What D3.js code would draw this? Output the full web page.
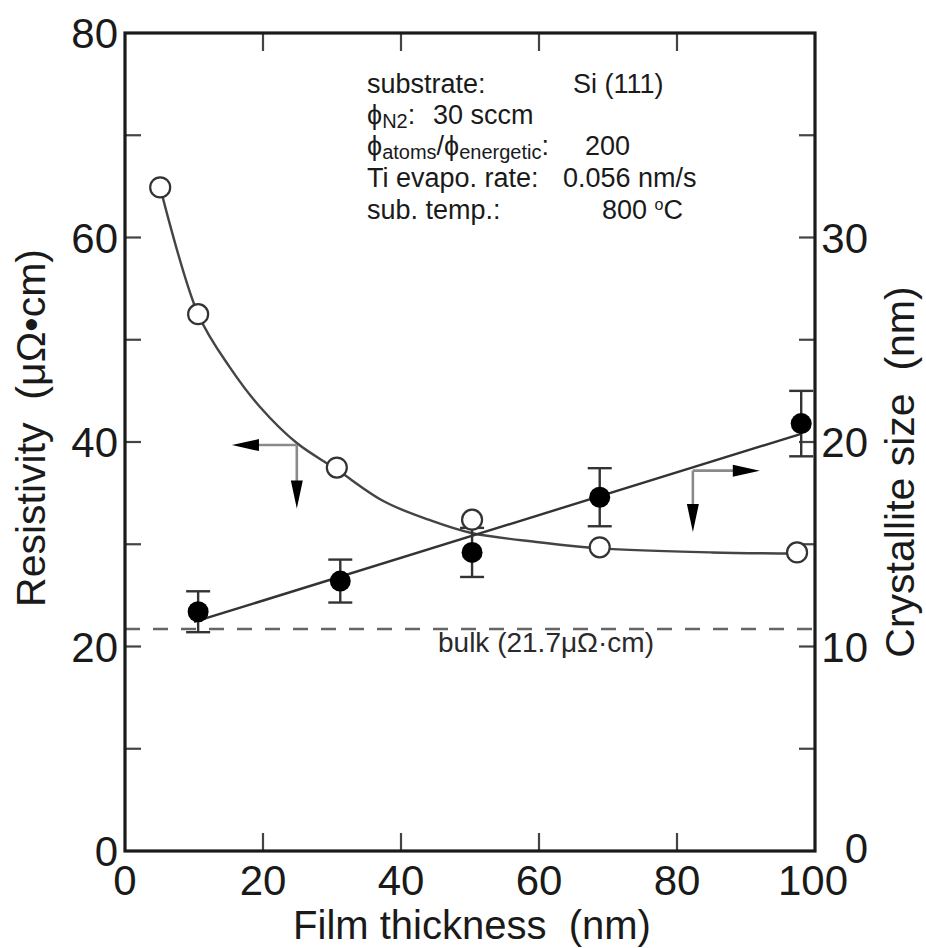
<!DOCTYPE html>
<html>
<head>
<meta charset="utf-8">
<script src="https://cdn.jsdelivr.net/npm/d3@7"></script>
<style>
  html, body { margin: 0; padding: 0; background: #fff; }
  svg { display: block; font-family: "Liberation Sans", Arial, Helvetica, sans-serif; }
</style>
</head>
<body>
<svg id="chart" width="926" height="948"></svg>
<script>
// Resistivity (open circles, left axis)
const thicknessRes = [5.1, 10.6, 30.7, 50.3, 68.8, 97.4];
const resistivity  = [64.9, 52.5, 37.5, 32.4, 29.7, 29.2];

// Crystallite size (filled circles with error bars, right axis)
const thicknessCry   = [10.6, 31.2, 50.3, 68.8, 98.0];
const crystallite    = [11.7, 13.2, 14.6, 17.3, 20.9];
const crystalliteErr = [1.0, 1.05, 1.2, 1.42, 1.6];

// Guide-to-the-eye curves
const resFitX = [5.1, 10.6, 15.2, 19.6, 24.9, 30.7, 37.5, 44, 50.2, 60, 68.8, 85, 97.4];
const resFitY = [64.9, 52.5, 47.3, 43.4, 39.9, 37.3, 34.2, 32.4, 31.1, 30.2, 29.6, 29.2, 29.1];
const cryFitX = [10, 98];
const cryFitY = [11.2, 20.4];

// Bulk resistivity reference
const bulkResistivity = 21.7;

// Axis ticks
const xTicks = [0, 20, 40, 60, 80, 100];
const xInnerTicks = [20, 40, 60, 80];
const leftTicks = [0, 20, 40, 60, 80];
const leftMinor = [10, 30, 50, 70];
const rightTicks = [0, 10, 20, 30];
const rightMinor = [5, 15, 25, 35];

const svg = d3.select("#chart");
const m = { left: 125, top: 33, right: 815, bottom: 851 };

const x = d3.scaleLinear().domain([0, 100]).range([m.left, m.right]);
const yL = d3.scaleLinear().domain([0, 80]).range([m.bottom, m.top]);
const yR = d3.scaleLinear().domain([0, 40]).range([m.bottom, m.top]);

const ink = "#1a1a1a";
const tickLen = 16;

// Tick marks (drawn inward)
const gTicks = svg.append("g").attr("stroke", "#444").attr("stroke-width", 2.2);
gTicks.selectAll(".lt").data(leftTicks.concat(leftMinor).filter(d => d > 0 && d < 80)).join("line")
  .attr("x1", m.left).attr("x2", m.left + tickLen)
  .attr("y1", d => yL(d)).attr("y2", d => yL(d));
gTicks.selectAll(".rt").data(rightTicks.concat(rightMinor).filter(d => d > 0 && d < 40)).join("line")
  .attr("x1", m.right).attr("x2", m.right - tickLen)
  .attr("y1", d => yR(d)).attr("y2", d => yR(d));
gTicks.selectAll(".bt").data(xInnerTicks).join("line")
  .attr("x1", d => x(d)).attr("x2", d => x(d))
  .attr("y1", m.bottom).attr("y2", m.bottom - 18);
gTicks.selectAll(".tt").data(xInnerTicks).join("line")
  .attr("x1", d => x(d)).attr("x2", d => x(d))
  .attr("y1", m.top).attr("y2", m.top + 18);

// Bulk dashed line
svg.append("line")
  .attr("x1", m.left).attr("x2", m.right)
  .attr("y1", yL(bulkResistivity)).attr("y2", yL(bulkResistivity))
  .attr("stroke", "#666").attr("stroke-width", 2.5)
  .attr("stroke-dasharray", "15,13");

svg.append("text")
  .attr("x", 438).attr("y", 652)
  .attr("font-size", 28).attr("fill", "#2a2a2a")
  .text("bulk (21.7μΩ·cm)");

// Fitted curves
const resLine = d3.line().x(d => x(d[0])).y(d => yL(d[1])).curve(d3.curveCatmullRom.alpha(0.5));
svg.append("path")
  .datum(d3.zip(resFitX, resFitY))
  .attr("d", resLine)
  .attr("fill", "none").attr("stroke", "#444").attr("stroke-width", 2.4);

const cryLine = d3.line().x(d => x(d[0])).y(d => yR(d[1]));
svg.append("path")
  .datum(d3.zip(cryFitX, cryFitY))
  .attr("d", cryLine)
  .attr("fill", "none").attr("stroke", "#333").attr("stroke-width", 2.4);

// Error bars for crystallite size
const cryData = d3.zip(thicknessCry, crystallite, crystalliteErr);
const gErr = svg.append("g").attr("stroke", "#333").attr("stroke-width", 2.4);
cryData.forEach(([t, v, e]) => {
  gErr.append("line").attr("x1", x(t)).attr("x2", x(t)).attr("y1", yR(v - e)).attr("y2", yR(v + e));
  gErr.append("line").attr("x1", x(t) - 12).attr("x2", x(t) + 12).attr("y1", yR(v - e)).attr("y2", yR(v - e));
  gErr.append("line").attr("x1", x(t) - 12).attr("x2", x(t) + 12).attr("y1", yR(v + e)).attr("y2", yR(v + e));
});

// Markers
svg.append("g").selectAll("circle").data(cryData).join("circle")
  .attr("cx", d => x(d[0])).attr("cy", d => yR(d[1])).attr("r", 10.5)
  .attr("fill", "#000");

svg.append("g").selectAll("circle").data(d3.zip(thicknessRes, resistivity)).join("circle")
  .attr("cx", d => x(d[0])).attr("cy", d => yL(d[1])).attr("r", 10)
  .attr("fill", "#fff").attr("stroke", "#333").attr("stroke-width", 2.2);

// Axis-indicator arrows
function indicator(cornerX, cornerY, hTipX, vTipY) {
  const g = svg.append("g");
  const dir = Math.sign(hTipX - cornerX);
  g.append("line").attr("x1", cornerX).attr("y1", cornerY).attr("x2", hTipX - dir * 20).attr("y2", cornerY)
    .attr("stroke", "#8a8a8a").attr("stroke-width", 2.6);
  g.append("line").attr("x1", cornerX).attr("y1", cornerY).attr("x2", cornerX).attr("y2", vTipY - 20)
    .attr("stroke", "#8a8a8a").attr("stroke-width", 2.6);
  g.append("path")
    .attr("d", `M${hTipX},${cornerY} L${hTipX - dir * 27},${cornerY - 6} L${hTipX - dir * 27},${cornerY + 6} Z`)
    .attr("fill", "#000");
  g.append("path")
    .attr("d", `M${cornerX},${vTipY} L${cornerX - 6},${vTipY - 28} L${cornerX + 6},${vTipY - 28} Z`)
    .attr("fill", "#000");
}
indicator(x(24.9), yL(39.7), x(15.5), yL(33.5));
indicator(x(82.3), yR(18.6), x(92), yR(15.6));

// Frame
svg.append("rect")
  .attr("x", m.left).attr("y", m.top)
  .attr("width", m.right - m.left).attr("height", m.bottom - m.top)
  .attr("fill", "none").attr("stroke", ink).attr("stroke-width", 3.2);

// Tick labels
const fs = 42;
svg.append("g").selectAll("text").data(xTicks).join("text")
  .attr("x", d => x(d) - (d === 100 ? 2 : 0)).attr("y", 895)
  .attr("text-anchor", "middle").attr("font-size", fs).attr("fill", ink)
  .text(d => d);
svg.append("g").selectAll("text").data(leftTicks).join("text")
  .attr("x", 118).attr("y", d => yL(d)).attr("dy", "0.36em")
  .attr("text-anchor", "end").attr("font-size", fs).attr("fill", ink)
  .text(d => d);
svg.append("g").selectAll("text").data(rightTicks).join("text")
  .attr("x", 868).attr("y", d => yR(d) - (d === 0 ? 3 : 0)).attr("dy", "0.36em")
  .attr("text-anchor", "end").attr("font-size", fs).attr("fill", ink)
  .text(d => d);

// Axis titles
svg.append("text")
  .attr("x", 472).attr("y", 939)
  .attr("text-anchor", "middle").attr("font-size", 40).attr("fill", ink)
  .attr("xml:space", "preserve")
  .text("Film thickness  (nm)");

svg.append("text")
  .attr("transform", "translate(45,428) rotate(-90)")
  .attr("text-anchor", "middle").attr("font-size", 41).attr("fill", ink)
  .attr("xml:space", "preserve")
  .text("Resistivity  (μΩ•cm)");

svg.append("text")
  .attr("transform", "translate(914,472) rotate(-90)")
  .attr("text-anchor", "middle").attr("font-size", 41).attr("fill", ink)
  .attr("xml:space", "preserve")
  .text("Crystallite size  (nm)");

// Deposition conditions
const note = svg.append("g").attr("font-size", 27).attr("fill", ink);
note.append("text").attr("x", 367).attr("y", 93).text("substrate:");
note.append("text").attr("x", 573).attr("y", 93).text("Si (111)");

const l2 = note.append("text").attr("x", 367).attr("y", 124);
l2.append("tspan").text("ϕ");
l2.append("tspan").attr("font-size", 20).attr("dy", 4).text("N2");
l2.append("tspan").attr("dy", -4).text(":");
note.append("text").attr("x", 433).attr("y", 124).text("30 sccm");

const l3 = note.append("text").attr("x", 367).attr("y", 155);
l3.append("tspan").text("ϕ");
l3.append("tspan").attr("font-size", 20).attr("dy", 4).text("atoms");
l3.append("tspan").attr("dy", -4).text("/ϕ");
l3.append("tspan").attr("font-size", 20).attr("dy", 4).text("energetic");
l3.append("tspan").attr("dy", -4).text(":");
note.append("text").attr("x", 585).attr("y", 155).text("200");

note.append("text").attr("x", 367).attr("y", 187).text("Ti evapo. rate:");
note.append("text").attr("x", 563).attr("y", 187).text("0.056 nm/s");

note.append("text").attr("x", 367).attr("y", 219).text("sub. temp.:");
const l5 = note.append("text").attr("x", 602).attr("y", 219);
l5.append("tspan").text("800 ");
l5.append("tspan").attr("font-size", 16).attr("dy", -9).text("o");
l5.append("tspan").attr("dy", 9).text("C");
</script>
</body>
</html>
